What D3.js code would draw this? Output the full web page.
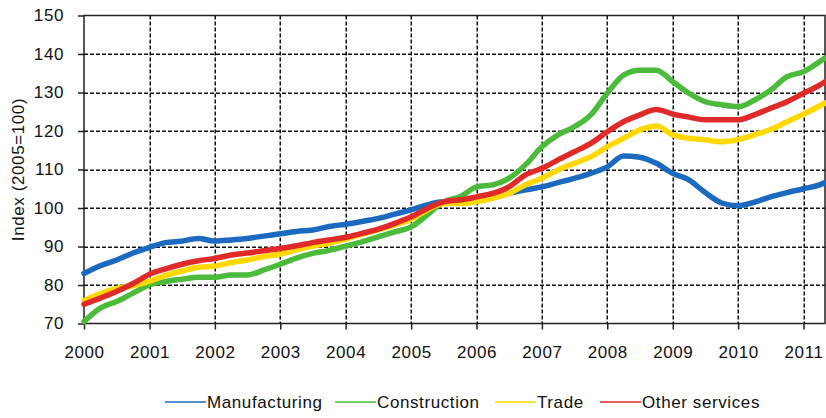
<!DOCTYPE html>
<html lang="en">
<head>
    <meta charset="UTF-8">
    <title>Index (2005=100)</title>
    <script src="https://d3js.org/d3.v7.min.js"></script>
    <style>
        body {
            margin: 0;
            background: #ffffff;
        }
        svg {
            display: block;
            font-family: "Liberation Sans", Arial, sans-serif;
        }
        .tick-label {
            font-size: 17px;
            fill: #111;
            letter-spacing: 0.6px;
        }
        .series {
            fill: none;
            stroke-width: 5.5;
            stroke-linejoin: round;
            stroke-linecap: round;
        }
        .legend-text {
            font-size: 17px;
            fill: #111;
            letter-spacing: 0.6px;
        }
    </style>
</head>
<body>
    <svg></svg>
    <script>
        // quarterly readings, last point May 2011
        const dates = [
            "2000-01","2000-04","2000-07","2000-10",
            "2001-01","2001-04","2001-07","2001-10",
            "2002-01","2002-04","2002-07","2002-10",
            "2003-01","2003-04","2003-07","2003-10",
            "2004-01","2004-04","2004-07","2004-10",
            "2005-01","2005-04","2005-07","2005-10",
            "2006-01","2006-04","2006-07","2006-10",
            "2007-01","2007-04","2007-07","2007-10",
            "2008-01","2008-04","2008-07","2008-10",
            "2009-01","2009-04","2009-07","2009-10",
            "2010-01","2010-04","2010-07","2010-10",
            "2011-01","2011-04","2011-05"
        ];

        const manufacturing = [
            83, 85, 86.5, 88.3,
            89.8, 91, 91.4, 92.1,
            91.4, 91.7, 92.1, 92.7,
            93.3, 93.9, 94.3, 95.2,
            95.8, 96.5, 97.3, 98.4,
            99.5, 100.8, 101.6, 101.6,
            102.1, 102.9, 103.8, 104.7,
            105.5, 106.6, 107.7, 109,
            110.7, 113.5, 113.2, 111.6,
            109, 107.3, 104, 101.3,
            100.6, 101.5, 102.9, 104,
            105, 106, 106.6
        ];
        const construction = [
            70.5, 74, 75.7, 77.9,
            80, 80.9, 81.5, 82,
            82, 82.6, 82.6, 83.9,
            85.4, 87, 88.2, 89,
            90.1, 91.2, 92.5, 93.8,
            95.1, 98.2, 101.6, 102.9,
            105.5, 106, 107.7, 111.2,
            115.9, 119, 121.1, 124.2,
            129.8, 134.5, 135.8, 135.8,
            132.8, 129.8, 127.6, 126.8,
            126.3, 128, 130.6, 134.1,
            135.4, 138, 139
        ];
        const trade = [
            76, 77.8, 79.1, 79.8,
            81, 82.5, 83.6, 84.6,
            84.9, 85.8, 86.5, 87.4,
            88, 89.1, 90.1, 90.8,
            91.9, 93.2, 94.3, 95.6,
            97.1, 99.5, 101.2, 101.2,
            101.6, 102.5, 103.8, 106,
            107.7, 109.9, 111.6, 113.3,
            115.9, 118.1, 120.3, 121.3,
            119, 118.1, 117.7, 117.2,
            117.8, 119, 120.4, 122.4,
            124.4, 126.5, 127.3
        ];
        const otherServices = [
            75, 76.6, 78.3, 80.4,
            82.8, 84.2, 85.4, 86.3,
            86.9, 87.8, 88.3, 88.9,
            89.5, 90.2, 91, 91.7,
            92.4, 93.4, 94.5, 96,
            97.7, 99.9, 101.6, 102.1,
            102.9, 103.8, 105.5, 108.6,
            110.3, 112.5, 114.6, 116.8,
            119.8, 122.4, 124.2, 125.6,
            124.4, 123.6, 122.9, 122.9,
            122.9, 124.2, 125.9, 127.6,
            129.8, 131.9, 132.8
        ];

        const seriesNames = ["Manufacturing", "Construction", "Trade", "Other services"];
        const seriesColors = ["#1c6abf", "#4cbb3c", "#ffd800", "#e02a2a"];
        const yTicks = [70, 80, 90, 100, 110, 120, 130, 140, 150];
        const xTickYears = [2000, 2001, 2002, 2003, 2004, 2005, 2006, 2007, 2008, 2009, 2010, 2011];

        const width = 826, height = 418;
        const margin = { left: 84, top: 15.5, right: 1, bottom: 94.5 };

        const svg = d3.select("svg")
            .attr("width", width)
            .attr("height", height);

        const parse = d3.timeParse("%Y-%m");
        const x = d3.scaleTime()
            .domain([parse("2000-01"), parse("2011-05")])
            .range([margin.left, width - margin.right]);
        const y = d3.scaleLinear()
            .domain([70, 150])
            .range([height - margin.bottom, margin.top]);

        const x0 = margin.left, x1 = width - margin.right;
        const y0 = margin.top, y1 = height - margin.bottom;

        // frame
        svg.append("path")
            .attr("d", `M${x0},${y0}H${x1}V${y1}H${x0}Z`)
            .attr("fill", "none")
            .attr("stroke", "#222")
            .attr("stroke-width", 1.5);

        // dashed grid as small filled rects (4 on, 2 off)
        const hLines = yTicks.filter(d => d > 70 && d < 150);
        const vLines = xTickYears.slice(1);
        const dashes = [];
        hLines.forEach(v => {
            const yy = Math.round(y(v));
            for (let s = x0; s < x1; s += 6) {
                dashes.push({ x: s, y: yy - 0.5, w: Math.min(4, x1 - s), h: 1.5 });
            }
        });
        vLines.forEach(v => {
            const xx = Math.round(x(new Date(v, 0, 1)));
            for (let s = y0; s < y1; s += 6) {
                dashes.push({ x: xx - 0.5, y: s, w: 1.5, h: Math.min(4, y1 - s) });
            }
        });
        svg.append("g")
            .selectAll("rect")
            .data(dashes)
            .join("rect")
            .attr("x", d => d.x)
            .attr("y", d => d.y)
            .attr("width", d => d.w)
            .attr("height", d => d.h)
            .attr("fill", "#111");

        // axes
        const yAxis = d3.axisLeft(y).tickValues(yTicks).tickSize(6).tickPadding(14);
        const gy = svg.append("g")
            .attr("transform", `translate(${margin.left},0)`)
            .call(yAxis);
        gy.select(".domain").remove();
        gy.selectAll("line").attr("stroke", "#222").attr("stroke-width", 1.5);
        gy.selectAll("text").attr("class", "tick-label").attr("font-size", null).attr("font-family", null);

        const xAxis = d3.axisBottom(x)
            .tickValues(xTickYears.map(d => new Date(d, 0, 1)))
            .tickFormat(d3.timeFormat("%Y"))
            .tickSize(6)
            .tickPadding(16);
        const gx = svg.append("g")
            .attr("transform", `translate(0,${height - margin.bottom})`)
            .call(xAxis);
        gx.select(".domain").remove();
        gx.selectAll("line").attr("stroke", "#222").attr("stroke-width", 1.5);
        gx.selectAll("text").attr("class", "tick-label").attr("font-size", null).attr("font-family", null);

        svg.append("text")
            .attr("class", "tick-label")
            .attr("transform", `translate(24,${(y0 + y1) / 2}) rotate(-90)`)
            .attr("text-anchor", "middle")
            .text("Index (2005=100)");

        // lines
        const allSeries = [manufacturing, construction, trade, otherServices];
        const line = d3.line()
            .x((d, i) => x(parse(dates[i])))
            .y(d => y(d))
            .curve(d3.curveMonotoneX);

        svg.append("g")
            .selectAll("path")
            .data(allSeries)
            .join("path")
            .attr("class", "series")
            .attr("stroke", (d, i) => seriesColors[i])
            .attr("d", d => line(d));

        // legend
        const legendX = [165, 335, 495, 600];
        const legend = svg.append("g")
            .selectAll("g")
            .data(seriesNames)
            .join("g")
            .attr("transform", (d, i) => `translate(${legendX[i]},402)`);
        legend.append("line")
            .attr("x1", 0).attr("x2", 41)
            .attr("stroke", (d, i) => seriesColors[i])
            .attr("stroke-width", 1.5);
        legend.append("text")
            .attr("class", "legend-text")
            .attr("x", 42)
            .attr("dy", "0.35em")
            .text(d => d);
    </script>
</body>
</html>
